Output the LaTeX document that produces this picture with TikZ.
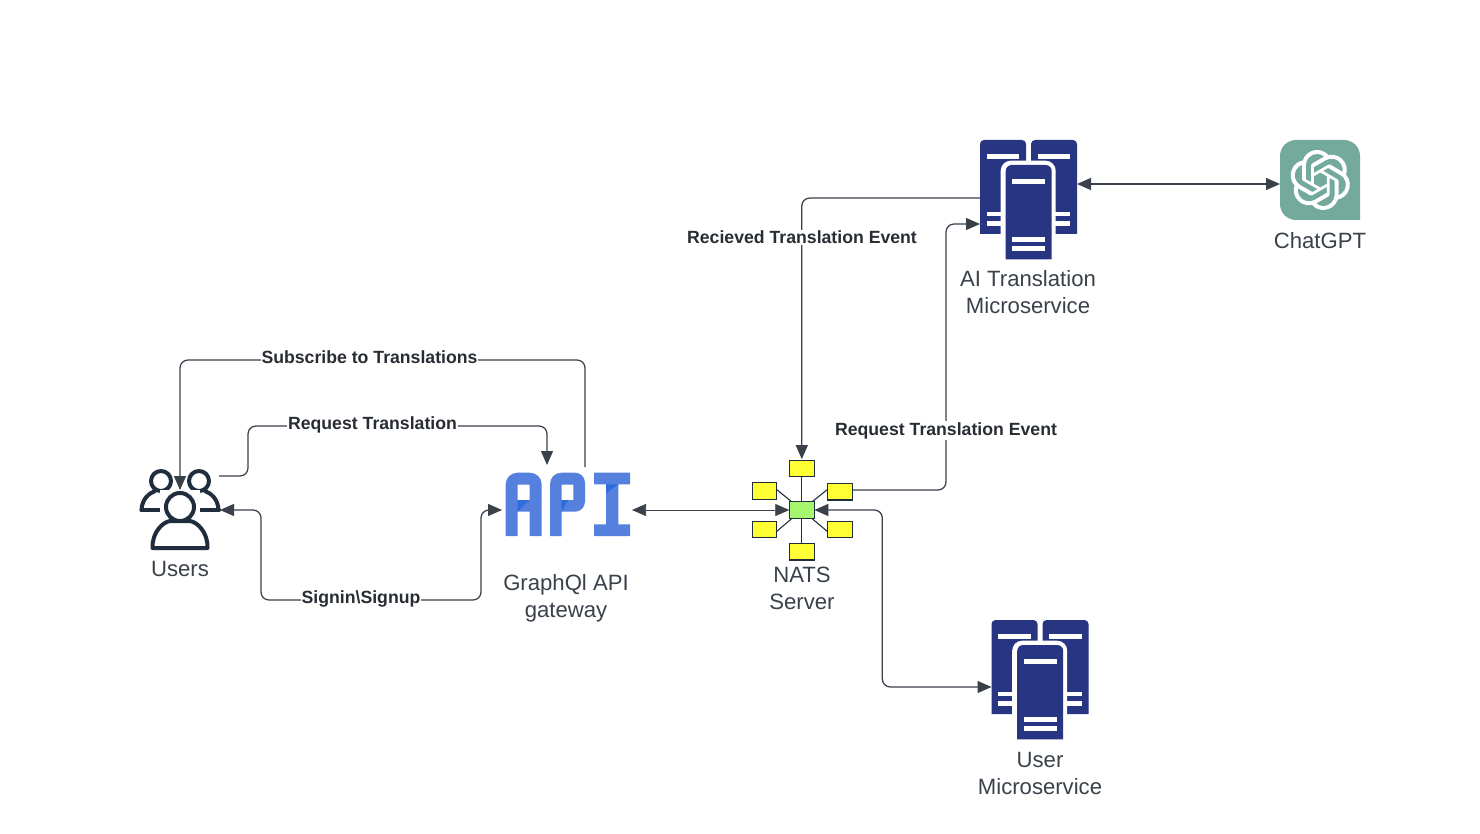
\documentclass[tikz,border=0pt]{standalone}
\usepackage{fontspec}
\setmainfont{Liberation Sans}
\usetikzlibrary{arrows.meta,calc,svg.path}
\definecolor{ink}{HTML}{3A414A}
\definecolor{txt}{HTML}{3A414A}
\definecolor{lbl}{HTML}{282C33}
\definecolor{navy}{HTML}{283583}
\definecolor{userink}{HTML}{1F2D3D}
\definecolor{apiblue}{HTML}{5580DD}
\definecolor{apidark}{HTML}{2E6BDB}
\definecolor{gptgreen}{HTML}{74AA9C}
\definecolor{natsy}{HTML}{FFFF33}
\definecolor{natsg}{HTML}{A6F56E}
\tikzset{
  area/.style={inner sep=0pt,outer sep=0pt,draw=none},
  conn/.style={draw=ink,line width=0.95pt,rounded corners=6pt,{Triangle[length=10.5pt,width=9pt]}-{Triangle[length=10.5pt,width=9pt]}},
  oneway/.style={draw=ink,line width=0.95pt,rounded corners=6pt,-{Triangle[length=10.5pt,width=9pt]}},
  capt/.style={text=txt,font=\fontsize{16.6}{20.25}\selectfont,align=center,inner sep=0pt},
  edgelabel/.style={text=lbl,fill=white,font=\fontsize{13.25}{16}\selectfont\bfseries,inner sep=0.6pt},
  natsbox/.style={draw=userink,line width=0.8pt,fill=natsy},
  natsline/.style={draw=userink,line width=0.8pt},
  person/.style={draw=userink,line width=3pt,line join=round,line cap=round,fill=white},
  srvbar/.style={fill=white,draw=none},
}
\newcommand{\serverglyph}[2]{%
\begin{scope}[shift={(#1,#2)}]
  \fill[navy] (0,94) -- (0,4) arc[start angle=180,end angle=270,radius=4] -- (42,0) arc[start angle=270,end angle=360,radius=4] -- (46,94) -- cycle;
  \fill[navy] (51,94) -- (51,4) arc[start angle=180,end angle=270,radius=4] -- (93,0) arc[start angle=270,end angle=360,radius=4] -- (97,94) -- cycle;
  \fill[srvbar] (6.7,14) rectangle (39,18.7);
  \fill[srvbar] (57.7,14) rectangle (90,18.7);
  \fill[srvbar] (6.7,71.7) rectangle (90,76);
  \fill[srvbar] (6.7,80.7) rectangle (90,85.7);
  \fill[white] (20.7,119.3) -- (20.7,30.7) arc[start angle=180,end angle=270,radius=10] -- (65.7,20.7) arc[start angle=270,end angle=360,radius=10] -- (75.7,119.3) -- cycle;
  \fill[navy] (25.7,119.3) -- (25.7,31) arc[start angle=180,end angle=270,radius=6] -- (65.7,25) arc[start angle=270,end angle=360,radius=6] -- (71.7,119.3) -- cycle;
  \fill[srvbar] (32.3,39.3) rectangle (65,43.7);
  \fill[srvbar] (32.3,96.7) rectangle (65,101.7);
  \fill[srvbar] (32.3,106) rectangle (65,110.7);
\end{scope}}
\begin{document}
\begin{tikzpicture}[x=0.75pt,y=-0.75pt]
\useasboundingbox (0,0) rectangle (1480,834);
\fill[white] (0,0) rectangle (1480,834);

% ---- named areas of the icons
\node[area,minimum width=60pt,minimum height=60pt] (users) at (180,510) {};
\node[area,minimum width=97.5pt,minimum height=60pt] (api) at (567,510) {};
\node[area,minimum width=75.75pt,minimum height=60pt] (nats) at (802.5,510) {};
\node[area,minimum width=18.75pt,minimum height=12.5pt] (hub) at (801.8,510) {};
\node[area,minimum width=72.75pt,minimum height=90pt] (ai) at (1028.5,200) {};
\node[area,minimum width=72.75pt,minimum height=90pt] (umicro) at (1040,680) {};
\node[area,minimum width=60pt,minimum height=60pt] (gpt) at (1320,180) {};

% ---- users icon
\draw[person] (141.5,510) -- (163,510);
\draw[person] (219,510) -- (197,510);
\draw[userink,line width=3pt,line cap=round] (141.5,510) .. controls (142,498) and (150,493) .. (155,491);
\draw[userink,line width=3pt,line cap=round] (218.5,510) .. controls (218,498) and (210,493) .. (205,491);
\draw[person,fill=white] (161,481) circle (10);
\draw[person,fill=white] (199,481) circle (10);
\path[fill=white] (160,490) rectangle (200,520);
\draw[person] (152.5,548) .. controls (152,532) and (163,522) .. (170,521) -- (190,521) .. controls (197,522) and (208,532) .. (207.5,548) -- cycle;
\draw[person] (180,507) circle (14);

% ---- API icon
\begin{scope}
  \fill[apiblue,even odd rule]
    (505.7,536) -- (505.7,484.4) arc[start angle=180,end angle=270,radius=11.7] -- (530,472.7) arc[start angle=270,end angle=360,radius=11.7] -- (541.7,536) -- (529.5,536) -- (529.5,511.7) -- (517.5,511.7) -- (517.5,536) -- cycle
    (517.5,484.5) rectangle (529.5,500);
  \fill[apidark] (517.5,500) -- (529.5,500) -- (517.5,511.7) -- cycle;
  \fill[apiblue,even odd rule]
    (550,536) -- (550,484) arc[start angle=180,end angle=270,radius=11.3] -- (575,472.7) arc[start angle=270,end angle=360,radius=10] -- (585,501.7) arc[start angle=0,end angle=90,radius=10] -- (561.7,511.7) -- (561.7,536) -- cycle
    (561.7,484.5) rectangle (573.3,500);
  \fill[apidark] (561.7,500) -- (568.3,500) -- (561.7,511.7) -- cycle;
  \fill[apiblue] (594,472.7) -- (630,472.7) -- (630,484.3) -- (618.3,484.3) -- (618.3,524.3) -- (630,524.3) -- (630,536) -- (594,536) -- (594,524.3) -- (606,524.3) -- (606,484.3) -- (594,484.3) -- cycle;
  \fill[apidark] (606,484.3) -- (618.3,484.3) -- (606,493.3) -- cycle;
\end{scope}

% ---- NATS icon
\path[natsline] (hub.center) -- (801.8,476);
\path[natsline] (hub.center) -- (801.8,543);
\path[natsline] (hub.center) -- (776,489);
\path[natsline] (hub.center) -- (776,532);
\path[natsline] (hub.center) -- (828,489);
\path[natsline] (hub.center) -- (828,532);
\path[natsbox] (789.3,460.3) rectangle (814.5,476.3);
\path[natsbox] (789.3,543.3) rectangle (814.5,560);
\path[natsbox] (752.7,482.3) rectangle (776.7,499.3);
\path[natsbox] (752.7,521.3) rectangle (776.7,537.3);
\path[natsbox] (827.3,483.3) rectangle (852.7,500);
\path[natsbox] (827.3,521.3) rectangle (852.7,537.3);
\path[natsbox,fill=natsg] (789.3,501.7) rectangle (814.5,518.3);

% ---- servers
\serverglyph{980}{140}
\serverglyph{991.5}{620}

% ---- ChatGPT icon
\path[fill=gptgreen] (1360,220) -- (1360,156) arc[start angle=0,end angle=-90,radius=16] -- (1296,140) arc[start angle=-90,end angle=-180,radius=16] -- (1280,204) arc[start angle=180,end angle=90,radius=16] -- cycle;
\begin{scope}[shift={(1320,180)},scale=1.875,yscale=-1,shift={(-11.9pt,-12pt)}]
  \fill[white,even odd rule] svg "M 22.2819 9.8211 a 5.9847 5.9847 0 0 0 -0.5157 -4.9108 a 6.0462 6.0462 0 0 0 -6.5098 -2.9 A 6.0651 6.0651 0 0 0 4.9807 4.1818 a 5.9847 5.9847 0 0 0 -3.9977 2.9 a 6.0462 6.0462 0 0 0 0.7427 7.0966 a 5.98 5.98 0 0 0 0.511 4.9107 a 6.051 6.051 0 0 0 6.5146 2.9001 A 5.9847 5.9847 0 0 0 13.2599 24 a 6.0557 6.0557 0 0 0 5.7718 -4.2058 a 5.9894 5.9894 0 0 0 3.9977 -2.9001 a 6.0557 6.0557 0 0 0 -0.7475 -7.0729 z
  M 13.2599 22.4292 a 4.4755 4.4755 0 0 1 -2.8764 -1.0408 l 0.1419 -0.0804 l 4.7783 -2.7582 a 0.7948 0.7948 0 0 0 0.3927 -0.6813 v -6.7369 l 2.02 1.1686 l 0.038 0.052 v 5.5826 a 4.504 4.504 0 0 1 -4.4945 4.4944 z
  M 3.5992 18.3038 a 4.4708 4.4708 0 0 1 -0.5346 -3.0137 l 0.142 0.0852 l 4.783 2.7582 a 0.7712 0.7712 0 0 0 0.7806 0 l 5.8428 -3.3685 v 2.3324 l -0.0332 0.0615 L 9.74 19.9502 a 4.4992 4.4992 0 0 1 -6.1408 -1.6464 z
  M 2.3408 7.8956 a 4.485 4.485 0 0 1 2.3655 -1.9728 V 11.6 a 0.7664 0.7664 0 0 0 0.3879 0.6765 l 5.8144 3.3543 l -2.0201 1.1685 l -0.071 0 l -4.8303 -2.7865 A 4.504 4.504 0 0 1 2.3408 7.8956 z
  M 18.9371 11.7514 L 13.1038 8.364 L 15.1192 7.2 l 0.071 0 l 4.8303 2.7913 a 4.4944 4.4944 0 0 1 -0.6765 8.1042 v -5.6771 a 0.79 0.79 0 0 0 -0.407 -0.667 z
  M 20.9478 8.7283 l -0.142 -0.0852 l -4.7735 -2.7818 a 0.7759 0.7759 0 0 0 -0.7854 0 L 9.409 9.2297 V 6.8974 l 0.0284 -0.0615 l 4.8303 -2.7866 a 4.4992 4.4992 0 0 1 6.6802 4.679 z
  M 8.3065 12.863 l -2.02 -1.1638 l -0.038 -0.0567 V 6.0742 a 4.4992 4.4992 0 0 1 7.3757 -3.4537 l -0.142 0.0805 L 8.704 5.459 a 0.7948 0.7948 0 0 0 -0.3927 0.6813 z
  M 9.4041 10.4976 l 2.602 -1.4998 l 2.6069 1.4998 v 2.9994 l -2.5974 1.4997 l -2.6067 -1.4997 z";
\end{scope}

% ---- connectors
\draw[oneway] ($(api.north)+(18,-3)$) -- ($(api.north)+(18,-110)$) -- ($(users.north)+(0,-110)$) -- ($(users.north)+(0,20)$);
\draw[oneway] ($(users.east)+(-1,-34)$) -- ($(users.east)+(28,-34)$) -- ($(users.east)+(28,-84)$) -- ($(api.north)+(-20,-44)$) -- ($(api.north)+(-20,-5)$);
\draw[conn] (users.east) -- ($(users.east)+(41,0)$) -- ($(users.east)+(41,90)$) -- ($(api.west)+(-21,90)$) -- ($(api.west)+(-21,0)$) -- (api.west);
\draw[conn,line width=0.5pt] (api.east) -- (hub.west);
\draw[conn] (hub.east) -- ($(hub.east)+(68,0)$) -- ($(hub.east)+(68,177)$) -- ($(umicro.west)+(0,7)$);
\draw[oneway] ($(nats.east)+(0,-20)$) -- ($(nats.east)+(93,-20)$) -- ($(ai.west)+(-34,24)$) -- ($(ai.west)+(0,24)$);
\draw[oneway] ($(ai.west)+(0,-2)$) -- ($(hub.north |- ai.west)+(0,-2)$) -- ($(hub.north)+(0,-42.5)$);
\draw[conn] ($(ai.east)+(0,-16)$) -- ($(gpt.west)+(0,4)$);

% ---- connector labels
\node[edgelabel] (l1) at (369.5,357.5) {Subscribe to Translations};
\node[edgelabel] (l2) at (372.5,424.5) {Request Translation};
\node[edgelabel] (l3) at (361,599) {Signin\textbackslash Signup};
\node[edgelabel] (l4) at (802,237.5) {Recieved Translation Event};
\node[edgelabel] (l5) at (946,430.5) {Request Translation Event};

% ---- captions
\node[capt] (c1) at (180,569) {Users};
\node[capt] (c2) at (566,598.5) {GraphQl API\\gateway};
\node[capt] (c3) at (802,588) {NATS\\Server};
\node[capt] (c4) at (1028,292.5) {AI Translation\\Microservice};
\node[capt] (c5) at (1320,240.5) {ChatGPT};
\node[capt] (c6) at (1040,773) {User\\Microservice};
\end{tikzpicture}
\end{document}
